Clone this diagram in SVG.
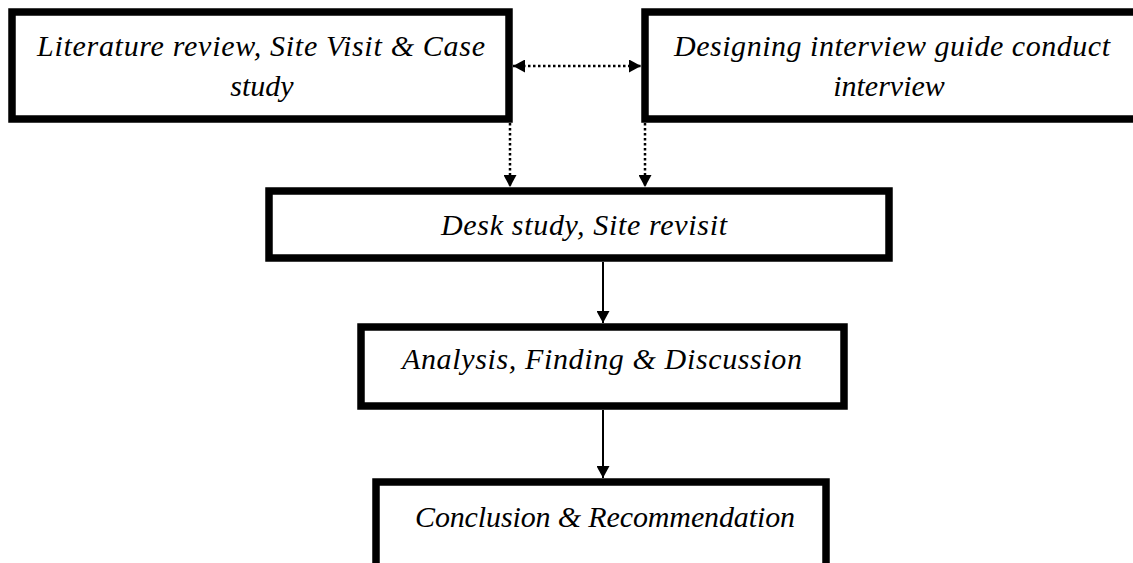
<svg xmlns="http://www.w3.org/2000/svg" width="1133" height="563" viewBox="0 0 1133 563">
<defs>
<marker id="ah" viewBox="0 0 12 13" refX="12" refY="6.5" markerWidth="12" markerHeight="13" markerUnits="userSpaceOnUse" orient="auto-start-reverse">
<path d="M0,0 L12,6.5 L0,13 z" fill="#000"/>
</marker>
<style>
.box{fill:#fff;stroke:#000;stroke-width:7.5}
.t{font-family:"Liberation Serif","Times New Roman",serif;font-style:italic;font-size:30px;fill:#000;text-anchor:middle}
.dot{fill:none;stroke:#000;stroke-width:2.5;stroke-dasharray:2.5 2.5}
.sol{fill:none;stroke:#000;stroke-width:2}
</style>
</defs>
<rect width="1133" height="563" fill="#fff"/>
<g id="n1">
<rect class="box" x="12" y="12" width="497" height="107"/>
<text class="t" x="261" y="56" textLength="448" lengthAdjust="spacing">Literature review, Site Visit &amp; Case</text>
<text class="t" x="262" y="96">study</text>
</g>
<g id="n2">
<rect class="box" x="645" y="12" width="500" height="107"/>
<text class="t" x="892" y="56" textLength="436" lengthAdjust="spacing">Designing interview guide conduct</text>
<text class="t" x="889" y="96">interview</text>
</g>
<g id="n3">
<rect class="box" x="269" y="191" width="620" height="67"/>
<text class="t" x="584" y="235" textLength="286" lengthAdjust="spacing">Desk study, Site revisit</text>
</g>
<g id="n4">
<rect class="box" x="361" y="327" width="483" height="79"/>
<text class="t" x="602" y="369" textLength="400" lengthAdjust="spacing">Analysis, Finding &amp; Discussion</text>
</g>
<g id="n5">
<rect class="box" x="376" y="482" width="450" height="95"/>
<text class="t" x="605" y="527" textLength="380" lengthAdjust="spacing">Conclusion &amp; Recommendation</text>
</g>
<g id="connectors">
<path class="dot" d="M513,66 L641,66" marker-start="url(#ah)" marker-end="url(#ah)"/>
<path class="dot" d="M510,123 L510,187" marker-end="url(#ah)"/>
<path class="dot" d="M645,123 L645,187" marker-end="url(#ah)"/>
<path class="sol" d="M603,262 L603,323" marker-end="url(#ah)"/>
<path class="sol" d="M603,410 L603,478" marker-end="url(#ah)"/>
</g>
</svg>
